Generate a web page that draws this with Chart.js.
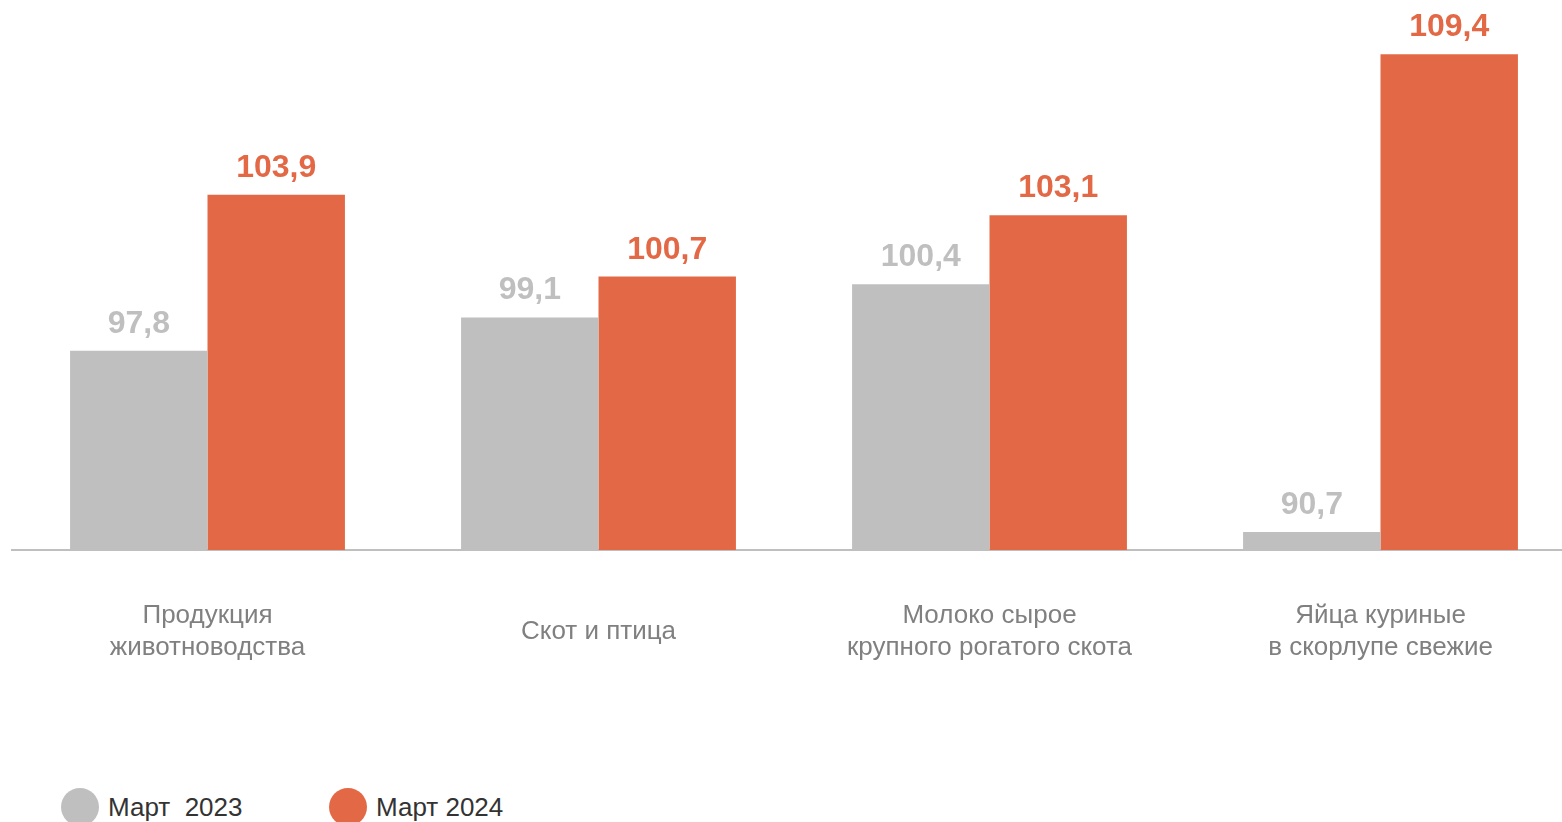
<!DOCTYPE html>
<html>
<head>
<meta charset="utf-8">
<script src="https://cdn.jsdelivr.net/npm/chart.js@4.4.1/dist/chart.umd.min.js"></script>
<style>
  html, body { margin: 0; padding: 0; background: #fff; overflow: hidden; }
  body { width: 1562px; height: 822px; position: relative; }
  #wrap { position: absolute; left: 0; top: 0; width: 1580px; height: 700px; }
  .legend { position: absolute; top: 788px; left: 0; font-family: "Liberation Sans", Arial, sans-serif; font-size: 26px; color: #333; }
  .legend .item { position: absolute; white-space: pre; display: flex; align-items: center; height: 38px; }
  .legend .dot { width: 38px; height: 38px; border-radius: 50%; margin-right: 9px; }
</style>
</head>
<body>
<div id="wrap"><canvas id="chart"></canvas></div>
<div class="legend" id="legend"></div>
<script>
// категории и значения
const categories = [
  ["Продукция", "животноводства"],
  "Скот и птица",
  ["Молоко сырое", "крупного рогатого скота"],
  ["Яйца куриные", "в скорлупе свежие"]
];
const seriesNames = ["Март  2023", "Март 2024"];
const values2023 = [97.8, 99.1, 100.4, 90.7];
const values2024 = [103.9, 100.7, 103.1, 109.4];
const colors = ["#bfbfbf", "#e36946"];

// подписи значений над столбиками
const valueLabels = {
  id: "valueLabels",
  afterDatasetsDraw(chart) {
    const ctx = chart.ctx;
    ctx.save();
    ctx.font = "bold 32px 'Liberation Sans', Arial, sans-serif";
    ctx.textAlign = "center";
    ctx.textBaseline = "alphabetic";
    chart.data.datasets.forEach((ds, i) => {
      const meta = chart.getDatasetMeta(i);
      ctx.fillStyle = ds.backgroundColor;
      meta.data.forEach((bar, j) => {
        const txt = ds.data[j].toFixed(1).replace(".", ",");
        ctx.fillText(txt, bar.x, bar.y - 18);
      });
    });
    ctx.restore();
  }
};

new Chart(document.getElementById("chart"), {
  type: "bar",
  data: {
    labels: categories,
    datasets: [
      { label: seriesNames[0], data: values2023, backgroundColor: colors[0] },
      { label: seriesNames[1], data: values2024, backgroundColor: colors[1] }
    ]
  },
  options: {
    responsive: true,
    maintainAspectRatio: false,
    animation: false,
    layout: { padding: { left: 12, right: 4, top: 39, bottom: 0 } },
    datasets: { bar: { categoryPercentage: 0.703, barPercentage: 1 } },
    plugins: { legend: { display: false }, tooltip: { enabled: false } },
    scales: {
      y: { display: false, min: 90, max: 110 },
      x: {
        grid: { display: false },
        border: { display: true, color: "#bfbfbf", width: 2 },
        ticks: {
          color: "#808080",
          padding: 58,
          crossAlign: "center",
          font: { family: "'Liberation Sans', Arial, sans-serif", size: 26, lineHeight: 1.23 }
        },
        afterFit(scale) { scale.height = 150; }
      }
    }
  },
  plugins: [valueLabels]
});

// легенда
const legend = document.getElementById("legend");
const legendX = [61, 329];
seriesNames.forEach((name, i) => {
  const item = document.createElement("div");
  item.className = "item";
  item.style.left = legendX[i] + "px";
  const dot = document.createElement("span");
  dot.className = "dot";
  dot.style.background = colors[i];
  item.appendChild(dot);
  item.appendChild(document.createTextNode(name));
  legend.appendChild(item);
});
</script>
</body>
</html>
